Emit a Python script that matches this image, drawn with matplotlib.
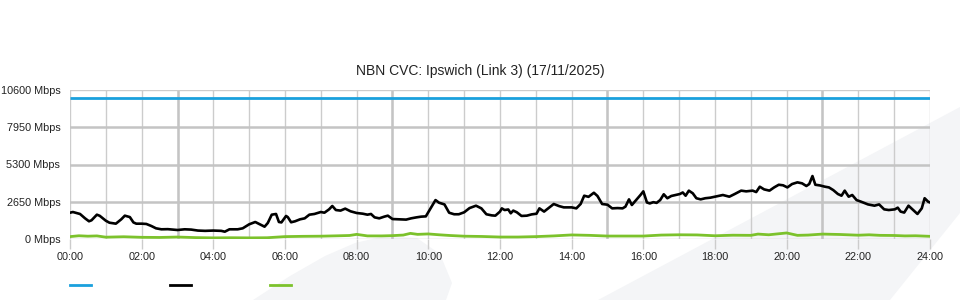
import matplotlib
matplotlib.use("Agg")
import matplotlib.pyplot as plt
from matplotlib.lines import Line2D
from matplotlib.patches import Polygon

plt.rcParams['font.family'] = ['Liberation Sans', 'DejaVu Sans']

title = "NBN CVC: Ipswich (Link 3) (17/11/2025)"

# capacity (blue)
cap_t = [0, 24]
cap_v = [10000, 10000]

# download / traffic (black)
dl_t = [0.00, 0.08, 0.28, 0.42, 0.53, 0.60, 0.75, 0.83, 1.00, 1.10, 1.28, 1.43, 1.53, 1.67, 1.77, 1.85,
        2.00, 2.13, 2.27, 2.40, 2.55, 2.73, 3.00, 3.20, 3.38, 3.57, 3.77, 4.00, 4.22, 4.32, 4.45, 4.68,
        4.82, 5.00, 5.17, 5.28, 5.43, 5.52, 5.63, 5.75, 5.83, 5.90, 6.03, 6.08, 6.17, 6.28, 6.42, 6.55,
        6.68, 6.82, 7.00, 7.10, 7.23, 7.32, 7.42, 7.55, 7.68, 7.83, 8.00, 8.17, 8.30, 8.40, 8.50, 8.63,
        8.77, 8.87, 9.00, 9.20, 9.38, 9.52, 9.67, 9.80, 9.93, 10.08, 10.20, 10.30, 10.45, 10.58, 10.72,
        10.85, 11.00, 11.15, 11.33, 11.48, 11.62, 11.77, 11.87, 12.00, 12.05, 12.13, 12.23, 12.30, 12.37,
        12.47, 12.60, 12.75, 12.88, 13.02, 13.10, 13.23, 13.37, 13.50, 13.65, 13.78, 14.00, 14.13, 14.25,
        14.35, 14.47, 14.62, 14.72, 14.85, 15.00, 15.13, 15.28, 15.42, 15.50, 15.60, 15.68, 15.80, 15.92,
        16.00, 16.10, 16.18, 16.28, 16.37, 16.47, 16.57, 16.67, 16.78, 16.90, 17.02, 17.10, 17.18, 17.27,
        17.38, 17.48, 17.60, 17.73, 17.87, 18.03, 18.22, 18.40, 18.55, 18.73, 18.87, 19.05, 19.15, 19.25,
        19.37, 19.52, 19.65, 19.78, 19.90, 20.02, 20.15, 20.30, 20.43, 20.55, 20.63, 20.72, 20.80, 20.93,
        21.07, 21.18, 21.30, 21.43, 21.53, 21.62, 21.73, 21.83, 21.95, 22.08, 22.27, 22.45, 22.58, 22.72,
        22.85, 23.02, 23.10, 23.18, 23.28, 23.40, 23.53, 23.65, 23.77, 23.85, 23.95, 24.00]
dl_v = [1870, 1920, 1780, 1470, 1260, 1330, 1730, 1650, 1300, 1160, 1090, 1400, 1660, 1560, 1180, 1090,
        1090, 1070, 925, 760, 690, 700, 640, 690, 670, 600, 580, 600, 580, 520, 690, 690,
        760, 1045, 1210, 1070, 875, 1140, 1730, 1780, 1210, 1180, 1640, 1550, 1190, 1260, 1400, 1470,
        1730, 1780, 1920, 1870, 2110, 2350, 2060, 2020, 2160, 1970, 1850, 1800, 1730, 1780, 1540, 1470,
        1590, 1660, 1420, 1400, 1380, 1470, 1540, 1590, 1610, 2250, 2770, 2580, 2460, 1870, 1760,
        1760, 1900, 2200, 2370, 2180, 1760, 1680, 1660, 1950, 2180, 2060, 2100, 1830, 2020,
        1900, 1640, 1660, 1750, 1800, 2180, 1950, 2230, 2490, 2340, 2250, 2250, 2180, 2490,
        3080, 3000, 3290, 3060, 2490, 2440, 2180, 2200, 2180, 2300, 2820, 2420, 2770, 3130,
        3390, 2600, 2530, 2620, 2570, 2770, 3180, 2900, 3060, 3130, 3200, 3310, 3080, 3440,
        3250, 2900, 2820, 2900, 2940, 3030, 3130, 3010, 3200, 3440, 3390, 3440, 3340, 3720,
        3530, 3440, 3670, 3860, 3820, 3670, 3910, 4030, 3960, 3770, 3910, 4480, 3860, 3810,
        3720, 3670, 3480, 3200, 3080, 3440, 3010, 3130, 2770, 2650, 2460, 2370, 2460, 2110,
        2060, 2110, 2230, 1950, 1880, 2370, 2060, 1780, 2180, 2900, 2650, 2600]

# upload (green)
ul_t = [0.0, 0.25, 0.5, 0.75, 1.0, 1.5, 2.0, 2.5, 3.0, 3.5, 4.0, 4.5, 5.0, 5.5, 6.0, 6.5, 7.0, 7.5, 7.8,
        8.0, 8.3, 8.7, 9.0, 9.3, 9.5, 9.7, 10.0, 10.3, 10.6, 11.0, 11.5, 12.0, 12.5, 13.0, 13.5, 14.0,
        14.5, 15.0, 15.5, 16.0, 16.5, 17.0, 17.5, 18.0, 18.5, 19.0, 19.2, 19.5, 20.0, 20.3, 20.6, 21.0,
        21.5, 22.0, 22.3, 22.6, 23.0, 23.3, 23.6, 24.0]
ul_v = [170, 230, 200, 220, 130, 160, 120, 110, 140, 100, 80, 90, 80, 90, 170, 190, 200, 230, 250,
        330, 220, 220, 240, 280, 400, 330, 360, 300, 250, 200, 180, 140, 140, 170, 220, 290,
        260, 210, 210, 210, 280, 300, 290, 230, 270, 260, 350, 300, 430, 260, 280, 350,
        320, 270, 300, 260, 250, 220, 230, 190]

y_ticks = [0, 2650, 5300, 7950, 10600]
x_major = list(range(0, 25, 2))
x_minor = list(range(0, 25))
x_heavy = [3, 9, 15, 21]

fig = plt.figure(figsize=(9.6, 3.0), dpi=100)
fig.patch.set_facecolor("white")

# watermark shapes (pixel coords, origin top-left)
W, H = 960, 300
band = [(598, 300), (960, 107), (960, 213), (890, 300)]
swoosh = [(253, 300), (290, 276), (325, 256), (355, 243), (385, 236), (417, 238),
          (440, 254), (452, 283), (446, 300)]
for shape in (band, swoosh):
    poly = Polygon([(x / W, 1 - y / H) for x, y in shape], closed=True,
                   transform=fig.transFigure, facecolor="#f4f5f7", edgecolor="none", zorder=-5)
    fig.add_artist(poly)

ax = fig.add_axes([70 / W, 61 / H, 860 / W, 149 / H])
ax.set_facecolor("none")
for s in ax.spines.values():
    s.set_visible(False)

ax.set_xlim(0, 24)
ax.set_ylim(0, 10600)

# grid
for h in x_minor:
    ax.axvline(h, color="#cccccc", lw=1.0, zorder=1)
for h in x_heavy:
    ax.axvline(h, color="#c4c4c4", lw=1.8, zorder=1)
for v in y_ticks:
    if v in (0, 10600):
        ax.axhline(v, color="#cccccc", lw=1.0, zorder=1)
    else:
        ax.axhline(v, color="#c4c4c4", lw=1.8, zorder=1)

ax.set_xticks(x_major)
ax.set_xticklabels([f"{h:02d}:00" for h in x_major], fontsize=7.8, color="#222222")
ax.tick_params(axis="x", length=7.5, width=1, color="#cccccc", direction="out", pad=1.5)
ax.set_yticks(y_ticks)
ax.set_yticklabels([f"{v} Mbps" for v in y_ticks], fontsize=7.8, color="#222222")
ax.tick_params(axis="y", length=0, pad=7)

c_blue, c_black, c_green = "#1aa0dd", "#000000", "#7cc22c"
ax.plot(cap_t, cap_v, color=c_blue, lw=2.0, zorder=3, solid_capstyle="butt")
ax.plot(ul_t, ul_v, color=c_green, lw=2.0, zorder=3)
ax.plot(dl_t, dl_v, color=c_black, lw=1.9, zorder=4)

fig.text(480 / W, 1 - 71 / H, title, ha="center", va="center", fontsize=10, color="#222222")

# legend keys (no labels)
for x0, c in zip([70, 170, 270], [c_blue, c_black, c_green]):
    fig.add_artist(Line2D([x0 / W, (x0 + 21) / W], [1 - 285 / H] * 2,
                          transform=fig.transFigure, color=c, lw=2.0))

fig.savefig("out.png", dpi=100, facecolor="white")
